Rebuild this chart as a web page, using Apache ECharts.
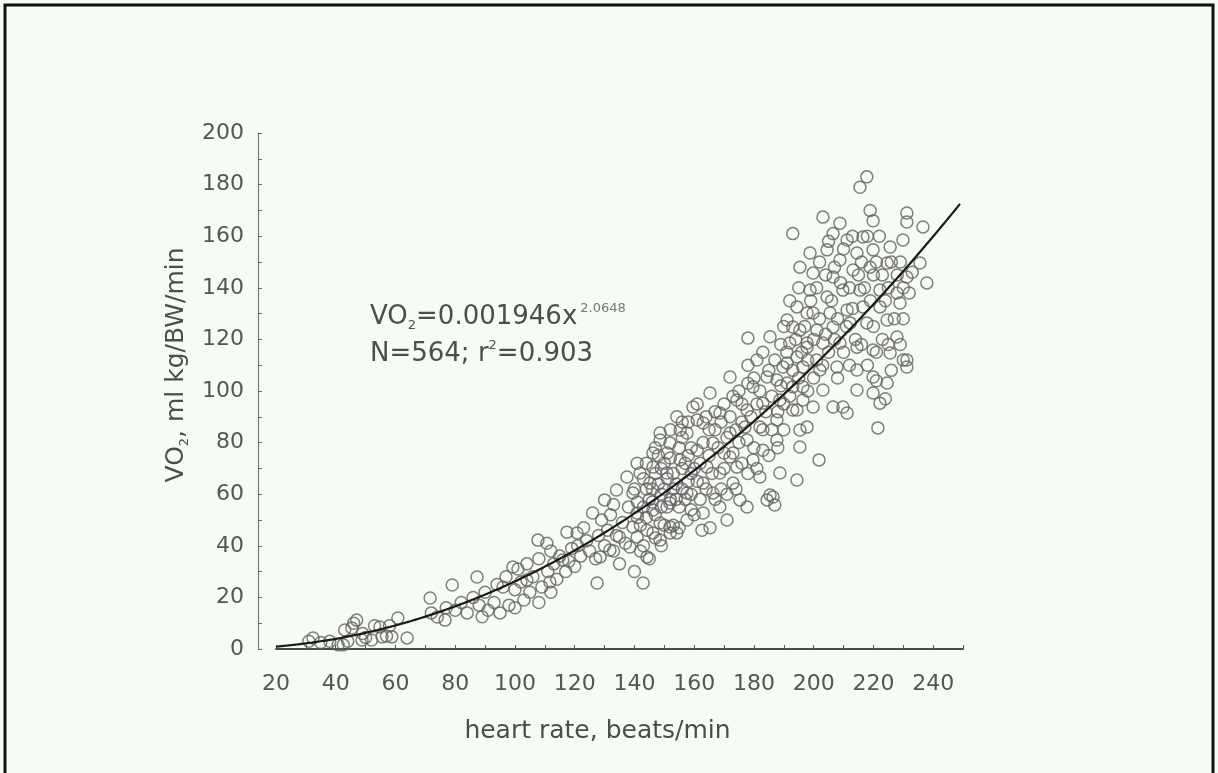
<!DOCTYPE html>
<html>
<head>
<meta charset="utf-8">
<script src="https://cdn.jsdelivr.net/npm/echarts@6/dist/echarts.min.js"></script>
<style>
  html, body { margin: 0; padding: 0; background: #f7fbf5; }
  #chart { width: 1218px; height: 773px; }
</style>
</head>
<body>
<div id="chart"></div>
<script>
// Heart rate (beats/min) of each observation
const heartRate = [
  31, 32.4, 35, 38, 40.8, 42.5, 43, 44, 45.4, 46, 47, 48.8, 49, 50, 52, 53, 54.8, 55.5, 57, 58.8, 58, 60.8, 63.9,
  71.6, 72, 74, 76.6, 77, 79, 80, 82, 84, 86, 87.3, 88, 89, 90, 91, 93, 94, 95, 96, 97, 98, 99.3, 100, 100,
  101, 102, 103, 104, 104, 105, 106, 107.7, 108, 108, 109, 110.7, 111, 111.7, 112, 112, 113, 114, 115, 116, 117.4, 117, 118, 119,
  120.8, 120, 121, 122, 123, 124, 125, 126, 127, 127.5, 128, 128.5, 129, 130, 130,
  131, 131.8, 132, 133, 133, 134, 134, 135, 135, 136, 137.5, 137, 138, 138.5, 139.5, 139.5, 140.9, 140.9, 140.9, 140,
  141.9, 141, 142, 142.9, 143, 144, 144.2, 144.2, 144, 145.2, 145, 146.2, 146.2, 146.2, 146.2, 146, 147, 147,
  148.6, 148.6, 148.6, 148.6, 148, 149, 149, 150.9, 150.9, 150, 150, 151.9, 151.9, 151.9, 151, 152, 152, 153,
  154.2, 154.2, 154, 155.3, 155.3, 155, 156, 156, 157.6, 157.6, 157.6, 157, 158, 159.6, 159, 159, 160, 160,
  161, 161, 162.6, 163, 163, 163, 164.3, 165.3, 165.3, 166.3, 166.3, 167, 168.6, 168.6, 168.6, 170, 171,
  172, 172, 172, 173, 174.3, 174.3, 175.3, 176, 177.7, 177.7, 177.7, 178, 178, 179.7, 179.7, 181, 182, 182,
  183, 183, 184.4, 184.4, 185.4, 185.4, 186.4, 187.7, 187.7, 187.7, 187, 188.7, 188.7, 189.7,
  191.1, 191.1, 191.1, 192, 193, 193, 193, 193, 194.4, 194.4, 194.4, 194.4, 195.4, 195.4, 195.4, 195.4,
  196.4, 196.4, 196.4, 197.8, 197.8, 197.8, 197.8, 198.8, 198.8, 199.8, 199.8, 199.8, 201.1, 201.8, 202.1,
  203.1, 203.1, 203.1, 204.5, 204.5, 205.5, 206.5, 206.5, 206.5, 206.5, 207.8, 208.8, 208.8, 208.8, 209.8, 209.8,
  211.2, 211.2, 211.2, 212.2, 213.2, 214.5, 214.5, 214.5, 214.5, 215.5, 215.5, 216.5, 216.5, 217.8, 217.8,
  218.9, 218.9, 219.9, 219.9, 219.9, 219.9, 219.9, 221, 221.5, 222.2, 222.2, 222.2, 224, 224.6, 224.6, 224.6,
  225.6, 225.6, 226, 227.9, 227.9, 228.9, 229, 229.9, 230, 231.2, 231.2, 231.2, 231.2, 231.2, 232, 233,
  235.6, 236.6, 237.9,
  140, 141, 142, 143, 143, 144, 145, 146, 147, 147, 148, 149, 149, 150, 151, 152, 152, 153, 153, 154,
  155, 155, 156, 156, 157, 158, 158, 159, 159,
  161, 161, 162, 162, 163, 164, 164, 165, 165, 166, 167, 167, 168, 169, 169, 170, 170, 171, 171, 172,
  173, 173, 174, 174, 175, 175, 176, 176, 177, 178, 178, 179, 180, 180, 181, 181, 182, 183, 183, 184,
  185, 185, 186, 186, 187, 188, 188, 189, 189, 190, 190, 190,
  191, 192, 192, 193, 194, 195, 195, 196, 197, 198, 198, 199, 200, 200, 201, 201, 202, 202, 203, 204,
  204, 205, 205, 206, 207, 207, 208, 208, 209, 210, 210, 211, 212, 212, 213, 213, 214, 215, 216, 216,
  217, 218, 218, 219, 220, 220, 221, 221, 222, 223, 223, 224, 225, 225, 226, 227, 228, 229, 230, 230
];

// Oxygen uptake (ml kg/BW/min) of each observation, same order as heartRate
const vo2 = [
  3, 4.3, 2.5, 3, 1.6, 1.6, 7.4, 3, 8.1, 10, 11.2, 3.5, 6, 4.5, 3.5, 9, 8.5, 4.7, 5, 4.7, 9, 12, 4.3,
  19.8, 14, 12.4, 11.2, 16, 24.8, 15, 18, 14, 20, 27.9, 17, 12.5, 22, 15, 18, 25, 14, 24, 28, 17, 31.8, 23, 16,
  31, 26, 19, 26.7, 33, 22, 28, 42.2, 35, 18, 24, 41, 30, 26, 38, 22, 33, 27, 36, 34.5, 45.3, 30, 34, 39,
  45, 32, 40, 36, 47, 42, 38, 52.7, 35, 25.6, 44, 35.7, 50, 57.8, 40,
  46, 38.4, 52, 38, 56, 61.6, 44, 43.4, 33, 49, 66.7, 41, 55, 39.5, 60.5, 47.3, 72, 43.4, 52.7, 30,
  68.2, 51, 38, 25.6, 55, 62, 46, 35.7, 51, 64.3, 35, 76, 45, 53.9, 70.5, 57, 78, 43,
  83.7, 48.8, 42.2, 81, 64, 60, 40, 55, 68.2, 72, 48, 79.8, 56.6, 47.3, 66, 45, 74, 62,
  90, 45, 58, 73.3, 84.9, 47, 88, 62, 83.7, 60.5, 50, 72, 65, 93.8, 78, 60, 70, 52,
  77, 88.8, 46, 52.7, 87.6, 64.3, 70.5, 99.2, 47, 79.8, 60.5, 85, 91.5, 68.2, 55, 76, 50,
  105.4, 83.7, 74.4, 64.3, 96.5, 70.5, 57.8, 88, 92.6, 81, 55, 120.5, 103, 101.6, 73.3, 112, 86, 66.7,
  95.3, 77, 105.4, 57.8, 121, 59.7, 58.9, 88.8, 104.3, 81, 55.8, 68.2, 96.5, 109.3,
  127.5, 110.9, 103.1, 118.6, 161, 124.8, 101.6, 92.6, 113.2, 65.5, 132.6, 92.6, 78.3, 123.6, 148, 84.9,
  96.5, 109.3, 101.6, 118.6, 130.2, 86, 117, 153.5, 139.1, 145.7, 130.2, 93.8, 123.6, 73.3, 108.1,
  167.4, 118.6, 100.4, 154.7, 136.4, 130.2, 161, 144.2, 124.8, 93.8, 109.3, 165, 150.8, 118.6, 139.1, 93.8,
  158.5, 131.4, 91.5, 126.4, 146.9, 153.5, 117, 108.1, 100.4, 179, 139.1, 159.7, 132.6, 183, 126.4,
  170, 148, 166, 154.7, 115.9, 105.4, 99.2, 104, 85.7, 139.1, 132.6, 95.3, 97, 149.6, 127.5, 103.1,
  155.8, 114.7, 108, 138, 120.9, 134.1, 118, 158.5, 128, 169, 165.5, 144.2, 112, 109.3, 138, 146,
  149.6, 163.6, 141.9,
  62, 57, 48, 66, 40, 72, 58, 62, 52, 68, 75, 55, 70, 62, 76, 58, 85, 68, 48, 64,
  78, 55, 70, 82, 58, 75, 88, 68, 54,
  65, 95, 72, 58, 80, 90, 62, 75, 85, 68, 92, 58, 78, 88, 62, 95, 70, 82, 60, 90,
  76, 98, 85, 62, 80, 100, 72, 95, 86, 68, 110, 90, 78, 105, 95, 70, 100, 85, 115, 92,
  75, 108, 98, 85, 112, 92, 78, 102, 118, 95, 85, 125,
  115, 98, 135, 108, 120, 105, 140, 115, 125, 100, 112, 135, 105, 120, 140, 112, 128, 150, 110, 122,
  145, 115, 158, 135, 120, 148, 128, 105, 142, 115, 155, 125, 140, 110, 160, 132, 120, 145, 118, 150,
  140, 110, 160, 135, 125, 145, 150, 115, 160, 120, 145, 135, 140, 118, 150, 128, 145, 150, 140, 112
];

// Power-law fit printed on the chart: VO2 = 0.001946 * HR^2.0648
const fitCoef = 0.001946;
const fitExp = 2.0648;
const fitFrom = 20;
const fitTo = 249;

// Axis ranges and tick spacing
const xMin = 20, xMax = 250, xStep = 20;
const yMin = 0, yMax = 200, yStep = 20;

const points = heartRate.map((hr, i) => [hr, vo2[i]]);
const fitLine = [];
for (let hr = fitFrom; hr <= fitTo; hr += 1) {
  fitLine.push([hr, fitCoef * Math.pow(hr, fitExp)]);
}

const FONT = 'DejaVu Sans';
const TEXT = '#4d4d4d';

const chart = echarts.init(document.getElementById('chart'), null, { renderer: 'canvas' });

chart.setOption({
  backgroundColor: '#f7fbf5',
  animation: false,
  grid: { left: 276, right: 255, top: 133, bottom: 124, containLabel: false },
  xAxis: {
    type: 'value',
    min: xMin, max: xMax, interval: xStep,
    offset: 16,
    name: 'heart rate, beats/min',
    nameLocation: 'middle',
    nameGap: 54,
    nameTextStyle: { fontFamily: FONT, fontSize: 25, color: TEXT, padding: [0, 44, 0, 0] },
    axisLine: { show: true, lineStyle: { color: '#4a4a4a', width: 2 } },
    axisTick: { show: true, inside: true, length: 4, lineStyle: { color: '#555' } },
    minorTick: { show: true, splitNumber: 2, length: 4, lineStyle: { color: '#555' } },
    axisLabel: { fontFamily: FONT, fontSize: 22, color: '#555', margin: 8, showMaxLabel: false },
    splitLine: { show: false },
    minorSplitLine: { show: false }
  },
  yAxis: {
    type: 'value',
    min: yMin, max: yMax, interval: yStep,
    offset: 18,
    name: '{t|VO}{s|2}{t|, ml kg/BW/min}',
    nameLocation: 'middle',
    nameGap: 62,
    nameRotate: 90,
    nameTextStyle: {
      fontFamily: FONT, fontSize: 25, color: TEXT, padding: [0, 0, 0, 52],
      rich: {
        t: { fontFamily: FONT, fontSize: 25, color: TEXT, lineHeight: 30 },
        s: { fontFamily: FONT, fontSize: 13, color: TEXT, lineHeight: 14, verticalAlign: 'bottom' }
      }
    },
    axisLine: { show: true, lineStyle: { color: '#777', width: 1.2 } },
    axisTick: { show: true, inside: true, length: 4, lineStyle: { color: '#666' } },
    minorTick: { show: true, splitNumber: 2, length: 4, lineStyle: { color: '#666' } },
    axisLabel: { fontFamily: FONT, fontSize: 22, color: '#555', margin: 14 },
    splitLine: { show: false },
    minorSplitLine: { show: false }
  },
  series: [
    {
      type: 'scatter',
      data: points,
      symbol: 'circle',
      symbolSize: 12,
      itemStyle: { color: 'rgba(0,0,0,0)', borderColor: '#626262', borderWidth: 1.5 },
      z: 2
    },
    {
      type: 'line',
      data: fitLine,
      showSymbol: false,
      smooth: true,
      lineStyle: { color: '#1a1a1a', width: 2.2 },
      clip: false,
      z: 3
    }
  ],
  graphic: [
    {
      type: 'rect',
      shape: { x: 5, y: 5, width: 1208, height: 800 },
      style: { fill: 'none', stroke: '#111', lineWidth: 3 },
      silent: true
    },
    {
      type: 'text',
      left: 370, top: 302,
      style: {
        text: '{t|VO}{sub|2}{t|=0.001946x}{sup|2.0648}',
        rich: {
          t: { fontFamily: FONT, fontSize: 26, fill: TEXT, lineHeight: 30 },
          sub: { fontFamily: FONT, fontSize: 13, fill: TEXT, lineHeight: 12, verticalAlign: 'bottom' },
          sup: { fontFamily: FONT, fontSize: 13, fill: '#777', lineHeight: 12, verticalAlign: 'top', padding: [0, 0, 0, 3] }
        }
      }
    },
    {
      type: 'text',
      left: 370, top: 339,
      style: {
        text: '{t|N=564; r}{sup|2}{t|=0.903}',
        rich: {
          t: { fontFamily: FONT, fontSize: 26, fill: TEXT, lineHeight: 30 },
          sup: { fontFamily: FONT, fontSize: 13, fill: TEXT, lineHeight: 12, verticalAlign: 'top' }
        }
      }
    }
  ]
});
</script>
</body>
</html>
